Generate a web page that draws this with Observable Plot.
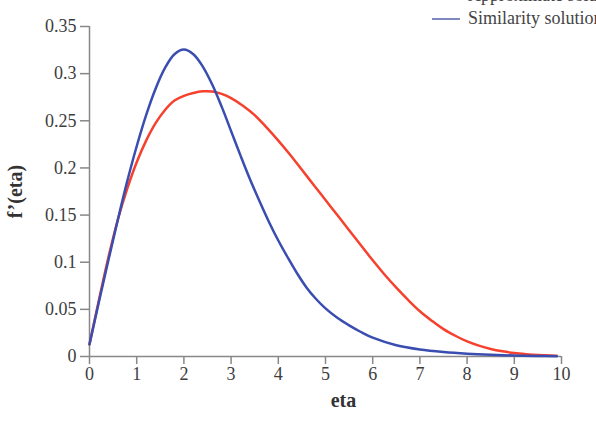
<!DOCTYPE html>
<html>
<head>
<meta charset="utf-8">
<script src="https://cdn.jsdelivr.net/npm/d3@7"></script>
<script src="https://cdn.jsdelivr.net/npm/@observablehq/plot@0.6"></script>
<style>
  html, body { margin: 0; padding: 0; background: #fff; }
  #wrap { position: relative; width: 596px; height: 424px; overflow: hidden; }
  #legend { position: absolute; left: 432px; top: -16px; font-family: "Liberation Serif", serif; font-size: 18px; color: #444; white-space: nowrap; }
  #legend .item { display: flex; align-items: center; height: 23px; }
  #legend .sw { width: 28px; height: 2px; margin-right: 8px; flex: none; }
  svg [aria-label="x-axis label"] text, svg [aria-label="y-axis label"] text { font-weight: bold; font-size: 20px; fill: #333; }
</style>
</head>
<body>
<div id="wrap"><div id="legend"></div></div>
<script>
const seriesNames = ["Approximate solution", "Similarity solution"];
const seriesColors = ["#f5412d", "#3a4db0"];
const legendColors = ["#f08070", "#8088c0"];

const etaSimilarity = [0, 0.2, 0.4, 0.6, 0.8, 1.0, 1.2, 1.4, 1.6, 1.8, 2.0, 2.2, 2.4, 2.6, 2.8, 3.0, 3.2, 3.4, 3.6, 3.8, 4.0, 4.2, 4.4, 4.6, 4.8, 5.0, 5.25, 5.5, 5.75, 6.0, 6.5, 7.0, 7.5, 8.0, 8.5, 9.0, 9.5, 9.9];
const fSimilarity   = [0.013, 0.058, 0.102, 0.145, 0.186, 0.223, 0.256, 0.284, 0.306, 0.3205, 0.3255, 0.3205, 0.3075, 0.2885, 0.265, 0.239, 0.213, 0.188, 0.165, 0.143, 0.123, 0.105, 0.088, 0.073, 0.061, 0.051, 0.041, 0.033, 0.026, 0.020, 0.012, 0.0075, 0.0048, 0.003, 0.0018, 0.001, 0.0005, 0.0003];

const etaApprox = [0, 0.2, 0.4, 0.6, 0.8, 1.0, 1.2, 1.4, 1.6, 1.8, 2.0, 2.2, 2.4, 2.6, 2.8, 3.0, 3.25, 3.5, 3.75, 4.0, 4.25, 4.5, 4.75, 5.0, 5.25, 5.5, 5.75, 6.0, 6.25, 6.5, 6.75, 7.0, 7.25, 7.5, 7.75, 8.0, 8.25, 8.5, 8.75, 9.0, 9.25, 9.5, 9.75, 9.9];
const fApprox   = [0.013, 0.060, 0.105, 0.145, 0.178, 0.206, 0.229, 0.2475, 0.2615, 0.2715, 0.2765, 0.2795, 0.2812, 0.281, 0.2785, 0.274, 0.266, 0.256, 0.243, 0.229, 0.214, 0.198, 0.182, 0.166, 0.150, 0.134, 0.118, 0.102, 0.087, 0.073, 0.060, 0.048, 0.038, 0.029, 0.022, 0.016, 0.0115, 0.008, 0.0055, 0.0037, 0.0025, 0.0016, 0.0010, 0.0008];

const xTicks = [0, 1, 2, 3, 4, 5, 6, 7, 8, 9, 10];
const yTicks = [0, 0.05, 0.1, 0.15, 0.2, 0.25, 0.3, 0.35];
const xLabel = "eta";
const yLabel = "f’(eta)";

const rows = [
  ...etaApprox.map((e, i) => ({eta: e, f: fApprox[i], series: seriesNames[0]})),
  ...etaSimilarity.map((e, i) => ({eta: e, f: fSimilarity[i], series: seriesNames[1]}))
];

const chart = Plot.plot({
  width: 596,
  height: 424,
  marginLeft: 89,
  marginRight: 35,
  marginTop: 26,
  marginBottom: 68,
  style: {fontFamily: "Liberation Serif, serif", fontSize: "18px", color: "#3d3d3d", background: "transparent"},
  x: {domain: [0, 10]},
  y: {domain: [0, 0.35]},
  color: {domain: seriesNames, range: seriesColors},
  marks: [
    Plot.axisX({ticks: xTicks, tickSize: 8, tickPadding: 3, stroke: "#888", strokeWidth: 1.5, tickFormat: d => String(d),
      label: xLabel, labelAnchor: "center", labelArrow: "none", labelOffset: 50}),
    Plot.axisY({ticks: yTicks, tickSize: 9, tickPadding: 4, stroke: "#888", strokeWidth: 1.5, tickFormat: d => String(d),
      label: yLabel, labelAnchor: "center", labelArrow: "none", labelOffset: 82}),
    Plot.ruleX([0], {stroke: "#888", strokeWidth: 1.5}),
    Plot.ruleY([0], {stroke: "#888", strokeWidth: 1.5}),
    Plot.line(rows, {x: "eta", y: "f", stroke: "series", z: "series", curve: "catmull-rom", strokeWidth: 2.5})
  ]
});

const wrap = document.getElementById("wrap");
wrap.insertBefore(chart, wrap.firstChild);
d3.select(chart).select('[aria-label="x-axis label"] text').attr("dx", 18);

const legend = d3.select("#legend");
seriesNames.forEach((name, i) => {
  const item = legend.append("div").attr("class", "item");
  item.append("div").attr("class", "sw").style("background", legendColors[i]);
  item.append("span").text(name);
});
</script>
</body>
</html>
